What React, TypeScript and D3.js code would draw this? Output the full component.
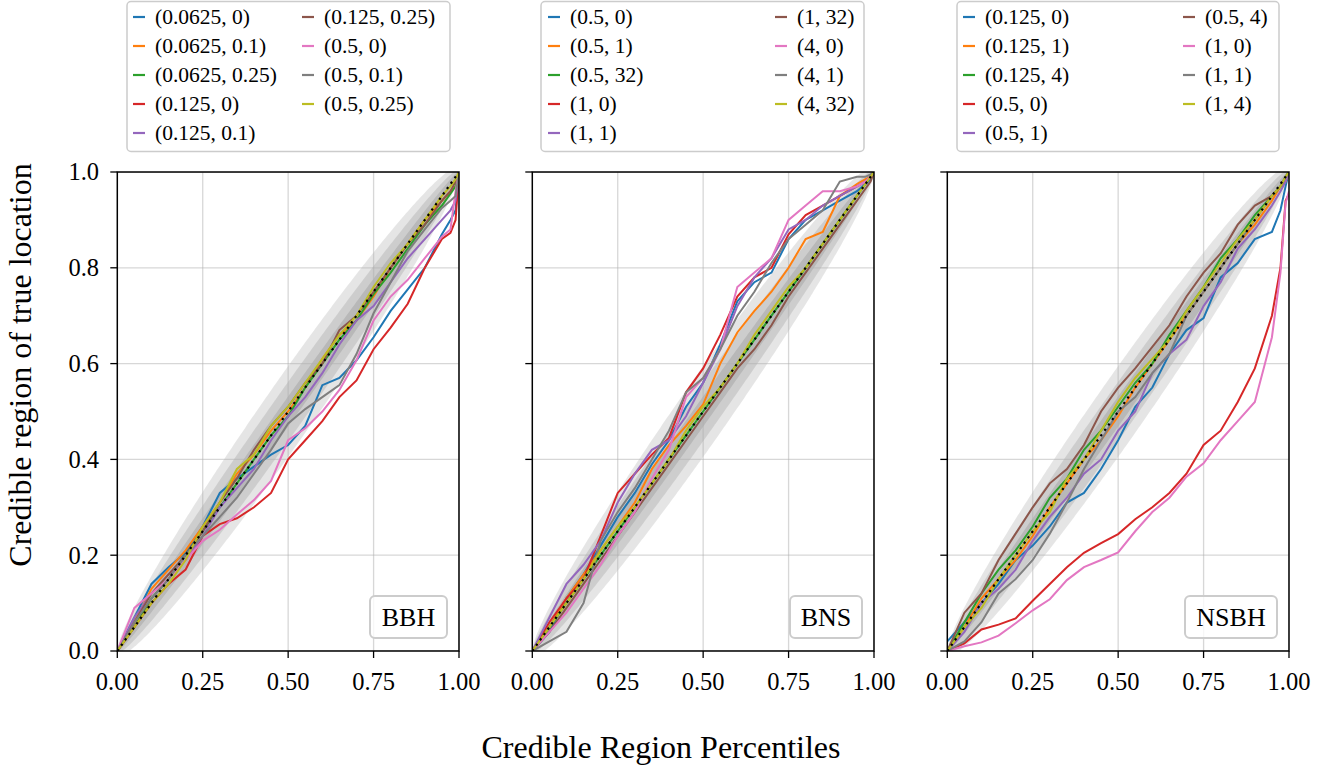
import React from 'react';
import * as d3 from 'd3';

// ---------------- DATA ----------------
const X_GRID = [0, 0.05, 0.1, 0.15, 0.2, 0.25, 0.3, 0.35, 0.4, 0.45, 0.5, 0.55, 0.6, 0.65, 0.7, 0.75, 0.8, 0.85, 0.9, 0.95, 0.975, 0.99, 1];

const COLORS = ['#1f77b4', '#ff7f0e', '#2ca02c', '#d62728', '#9467bd', '#8c564b', '#e377c2', '#7f7f7f', '#bcbd22'];

const X_TICKS = [0, 0.25, 0.5, 0.75, 1.0];
const X_TICK_LABELS = ['0.00', '0.25', '0.50', '0.75', '1.00'];
const Y_TICKS = [0, 0.2, 0.4, 0.6, 0.8, 1.0];
const Y_TICK_LABELS = ['0.0', '0.2', '0.4', '0.6', '0.8', '1.0'];

const PANEL_NAMES = ['BBH', 'BNS', 'NSBH'];

const BBH_LABELS = ['(0.0625, 0)', '(0.0625, 0.1)', '(0.0625, 0.25)', '(0.125, 0)', '(0.125, 0.1)', '(0.125, 0.25)', '(0.5, 0)', '(0.5, 0.1)', '(0.5, 0.25)'];
const BNS_LABELS = ['(0.5, 0)', '(0.5, 1)', '(0.5, 32)', '(1, 0)', '(1, 1)', '(1, 32)', '(4, 0)', '(4, 1)', '(4, 32)'];
const NSBH_LABELS = ['(0.125, 0)', '(0.125, 1)', '(0.125, 4)', '(0.5, 0)', '(0.5, 1)', '(0.5, 4)', '(1, 0)', '(1, 1)', '(1, 4)'];

// BBH
const bbhBlue = [0, 0.07, 0.14, 0.175, 0.205, 0.26, 0.33, 0.36, 0.385, 0.41, 0.43, 0.47, 0.555, 0.57, 0.607, 0.655, 0.71, 0.755, 0.8, 0.87, 0.9, 0.92, 1];
const bbhOrange = [0, 0.06, 0.13, 0.17, 0.21, 0.26, 0.31, 0.37, 0.41, 0.46, 0.5, 0.55, 0.61, 0.66, 0.69, 0.74, 0.8, 0.85, 0.9, 0.94, 0.96, 0.97, 1];
const bbhGreen = [0, 0.05, 0.11, 0.15, 0.2, 0.25, 0.3, 0.35, 0.4, 0.45, 0.49, 0.55, 0.6, 0.65, 0.69, 0.745, 0.79, 0.84, 0.89, 0.93, 0.955, 0.97, 1];
const bbhRed = [0, 0.05, 0.1, 0.14, 0.17, 0.24, 0.265, 0.277, 0.3, 0.33, 0.4, 0.44, 0.48, 0.53, 0.565, 0.63, 0.675, 0.725, 0.8, 0.86, 0.873, 0.9, 1];
const bbhPurple = [0, 0.07, 0.12, 0.16, 0.19, 0.24, 0.3, 0.34, 0.38, 0.44, 0.49, 0.53, 0.58, 0.64, 0.69, 0.72, 0.77, 0.82, 0.86, 0.9, 0.92, 0.94, 1];
const bbhBrown = [0, 0.06, 0.12, 0.16, 0.2, 0.25, 0.31, 0.36, 0.42, 0.47, 0.51, 0.56, 0.6, 0.67, 0.7, 0.75, 0.8, 0.85, 0.89, 0.94, 0.96, 0.98, 1];
const bbhPink = [0, 0.09, 0.12, 0.15, 0.19, 0.23, 0.253, 0.285, 0.315, 0.355, 0.44, 0.465, 0.5, 0.545, 0.607, 0.69, 0.74, 0.775, 0.82, 0.865, 0.88, 0.96, 1];
const bbhGrey = [0, 0.06, 0.11, 0.15, 0.2, 0.24, 0.28, 0.32, 0.37, 0.42, 0.475, 0.505, 0.53, 0.555, 0.62, 0.705, 0.77, 0.835, 0.88, 0.925, 0.94, 0.95, 1];
const bbhOlive = [0, 0.05, 0.1, 0.14, 0.19, 0.26, 0.31, 0.38, 0.41, 0.47, 0.51, 0.56, 0.61, 0.66, 0.7, 0.76, 0.81, 0.85, 0.9, 0.95, 0.97, 0.985, 1];

// BNS
const bnsBlue = [0, 0.04, 0.11, 0.16, 0.22, 0.28, 0.33, 0.39, 0.44, 0.51, 0.56, 0.64, 0.73, 0.77, 0.79, 0.86, 0.9, 0.92, 0.94, 0.96, 0.975, 0.985, 1];
const bnsOrange = [0, 0.05, 0.11, 0.16, 0.21, 0.26, 0.31, 0.38, 0.43, 0.47, 0.515, 0.6, 0.665, 0.71, 0.75, 0.8, 0.86, 0.875, 0.95, 0.975, 0.985, 0.99, 1];
const bnsGreen = [0, 0.05, 0.1, 0.15, 0.2, 0.25, 0.3, 0.35, 0.4, 0.45, 0.5, 0.55, 0.6, 0.65, 0.7, 0.75, 0.8, 0.85, 0.9, 0.95, 0.975, 0.99, 1];
const bnsRed = [0, 0.06, 0.11, 0.15, 0.24, 0.33, 0.37, 0.41, 0.445, 0.54, 0.59, 0.66, 0.74, 0.78, 0.8, 0.87, 0.91, 0.93, 0.95, 0.97, 0.98, 0.99, 1];
const bnsPurple = [0, 0.07, 0.14, 0.18, 0.23, 0.31, 0.37, 0.42, 0.44, 0.49, 0.56, 0.63, 0.72, 0.78, 0.82, 0.88, 0.9, 0.93, 0.95, 0.97, 0.98, 0.99, 1];
const bnsBrown = [0, 0.04, 0.09, 0.14, 0.19, 0.24, 0.29, 0.34, 0.39, 0.44, 0.49, 0.54, 0.59, 0.63, 0.68, 0.74, 0.79, 0.84, 0.89, 0.94, 0.965, 0.98, 1];
const bnsPink = [0, 0.04, 0.08, 0.13, 0.18, 0.24, 0.29, 0.36, 0.42, 0.53, 0.57, 0.63, 0.76, 0.79, 0.82, 0.9, 0.93, 0.96, 0.96, 0.97, 0.98, 0.99, 1];
const bnsGrey = [0, 0.02, 0.04, 0.1, 0.23, 0.29, 0.34, 0.4, 0.46, 0.54, 0.57, 0.63, 0.7, 0.75, 0.81, 0.86, 0.89, 0.92, 0.98, 0.99, 0.99, 0.995, 1];
const bnsOlive = [0, 0.05, 0.1, 0.15, 0.21, 0.26, 0.3, 0.35, 0.4, 0.46, 0.51, 0.55, 0.6, 0.66, 0.71, 0.76, 0.8, 0.85, 0.9, 0.95, 0.975, 0.99, 1];

// NSBH
const nsbhBlue = [0.02, 0.06, 0.1, 0.14, 0.19, 0.22, 0.26, 0.31, 0.33, 0.38, 0.44, 0.51, 0.55, 0.62, 0.67, 0.695, 0.78, 0.81, 0.86, 0.875, 0.92, 0.97, 1];
const nsbhOrange = [0, 0.05, 0.11, 0.15, 0.19, 0.24, 0.3, 0.35, 0.4, 0.44, 0.49, 0.55, 0.6, 0.65, 0.7, 0.75, 0.8, 0.85, 0.89, 0.94, 0.97, 0.98, 1];
const nsbhGreen = [0, 0.06, 0.12, 0.17, 0.21, 0.26, 0.32, 0.36, 0.42, 0.46, 0.51, 0.56, 0.6, 0.66, 0.71, 0.76, 0.82, 0.86, 0.91, 0.95, 0.97, 0.99, 1];
const nsbhRed = [0, 0.016, 0.045, 0.055, 0.068, 0.105, 0.14, 0.175, 0.205, 0.225, 0.244, 0.275, 0.3, 0.33, 0.37, 0.43, 0.46, 0.52, 0.59, 0.7, 0.8, 0.94, 0.955];
const nsbhPurple = [0, 0.04, 0.1, 0.13, 0.17, 0.23, 0.28, 0.32, 0.37, 0.4, 0.46, 0.5, 0.58, 0.62, 0.65, 0.72, 0.77, 0.84, 0.88, 0.93, 0.96, 0.98, 1];
const nsbhBrown = [0, 0.08, 0.12, 0.19, 0.245, 0.3, 0.35, 0.38, 0.43, 0.5, 0.55, 0.59, 0.635, 0.68, 0.74, 0.79, 0.83, 0.89, 0.93, 0.95, 0.97, 0.99, 1];
const nsbhPink = [0, 0.01, 0.018, 0.032, 0.058, 0.085, 0.108, 0.148, 0.175, 0.19, 0.206, 0.25, 0.29, 0.32, 0.364, 0.392, 0.44, 0.48, 0.52, 0.655, 0.79, 0.935, 0.96];
const nsbhGrey = [0, 0.02, 0.06, 0.12, 0.15, 0.19, 0.245, 0.31, 0.38, 0.44, 0.5, 0.53, 0.58, 0.62, 0.7, 0.75, 0.8, 0.85, 0.9, 0.95, 0.97, 0.99, 1];
const nsbhOlive = [0, 0.05, 0.09, 0.15, 0.2, 0.25, 0.29, 0.36, 0.4, 0.46, 0.52, 0.57, 0.61, 0.65, 0.71, 0.76, 0.81, 0.86, 0.9, 0.95, 0.97, 0.99, 1];

const BBH_SERIES = [bbhBlue, bbhOrange, bbhGreen, bbhRed, bbhPurple, bbhBrown, bbhPink, bbhGrey, bbhOlive];
const BNS_SERIES = [bnsBlue, bnsOrange, bnsGreen, bnsRed, bnsPurple, bnsBrown, bnsPink, bnsGrey, bnsOlive];
const NSBH_SERIES = [nsbhBlue, nsbhOrange, nsbhGreen, nsbhRed, nsbhPurple, nsbhBrown, nsbhPink, nsbhGrey, nsbhOlive];

// confidence bands (binomial, N events)
const N_EVENTS = 250;
const BAND_Z = [1.0, 1.96, 3.0];

// ---------------- LAYOUT ----------------
const W = 1335;
const H = 770;
const PANEL_LEFT = [117.3, 532.3, 947.3];
const PANEL_W = 341.7;
const TOP = 172;
const BOTTOM = 651;
const FONT = '"Liberation Serif", "Times New Roman", serif';
const LEGEND_LAYOUT = [
  { box: [127, 450], h1: 133, h2: 302 },
  { box: [541, 864], h1: 548, h2: 775 },
  { box: [957, 1279], h1: 963, h2: 1183 },
];
const ANNOT_W = [77, 72, 92];

const PANELS = [
  { name: PANEL_NAMES[0], labels: BBH_LABELS, series: BBH_SERIES },
  { name: PANEL_NAMES[1], labels: BNS_LABELS, series: BNS_SERIES },
  { name: PANEL_NAMES[2], labels: NSBH_LABELS, series: NSBH_SERIES },
];

function Panel({ idx }: { idx: number }) {
  const p = PANELS[idx];
  const left = PANEL_LEFT[idx];
  const x = d3.scaleLinear().domain([0, 1]).range([left, left + PANEL_W]);
  const y = d3.scaleLinear().domain([0, 1]).range([BOTTOM, TOP]);
  const clipId = `clip${idx}`;

  const ps = d3.range(0, 1.0001, 0.005);
  const bands = BAND_Z.map((z) => {
    const area = d3
      .area<number>()
      .x((v) => x(v))
      .y0((v) => y(Math.max(0, v - z * Math.sqrt((v * (1 - v)) / N_EVENTS))))
      .y1((v) => y(Math.min(1, v + z * Math.sqrt((v * (1 - v)) / N_EVENTS))));
    return area(ps) as string;
  });

  const line = d3
    .line<[number, number]>()
    .x((d) => x(d[0]))
    .y((d) => y(d[1]));

  const lg = LEGEND_LAYOUT[idx];
  const rowY = (r: number) => 17 + r * 29;
  const annW = ANNOT_W[idx];
  const annRight = left + PANEL_W - 12;

  return (
    <g>
      <defs>
        <clipPath id={clipId}>
          <rect x={left} y={TOP} width={PANEL_W} height={BOTTOM - TOP} />
        </clipPath>
      </defs>
      <g clipPath={`url(#${clipId})`}>
        {bands.map((d, i) => (
          <path key={i} d={d} fill="#000" fillOpacity={0.1} stroke="none" />
        ))}
        {X_TICKS.map((t, i) => (
          <line key={'gx' + i} x1={x(t)} x2={x(t)} y1={TOP} y2={BOTTOM} stroke="#b0b0b0" strokeOpacity={0.5} strokeWidth={1.3} />
        ))}
        {Y_TICKS.map((t, i) => (
          <line key={'gy' + i} x1={left} x2={left + PANEL_W} y1={y(t)} y2={y(t)} stroke="#b0b0b0" strokeOpacity={0.5} strokeWidth={1.3} />
        ))}
        {p.series.map((s, i) => (
          <path
            key={'s' + i}
            d={line(X_GRID.map((xv, j) => [xv, s[j]] as [number, number])) as string}
            fill="none"
            stroke={COLORS[i]}
            strokeWidth={2}
            strokeLinejoin="miter"
          />
        ))}
        <line x1={x(0)} y1={y(0)} x2={x(1)} y2={y(1)} stroke="#000" strokeWidth={2.2} strokeDasharray="2.2,4.4" />
      </g>
      {/* spines */}
      <rect x={left} y={TOP} width={PANEL_W} height={BOTTOM - TOP} fill="none" stroke="#000" strokeWidth={1.5} />
      {/* ticks */}
      {X_TICKS.map((t, i) => (
        <g key={'xt' + i}>
          <line x1={x(t)} x2={x(t)} y1={BOTTOM} y2={BOTTOM + 7} stroke="#000" strokeWidth={1.3} />
          <text x={x(t)} y={690} textAnchor="middle" fontFamily={FONT} fontSize={24.5} fill="#000">
            {X_TICK_LABELS[i]}
          </text>
        </g>
      ))}
      {Y_TICKS.map((t, i) => (
        <g key={'yt' + i}>
          <line x1={left - 7} x2={left} y1={y(t)} y2={y(t)} stroke="#000" strokeWidth={1.3} />
          {idx === 0 && (
            <text x={99} y={y(t) + 8.3} textAnchor="end" fontFamily={FONT} fontSize={24.5} fill="#000">
              {Y_TICK_LABELS[i]}
            </text>
          )}
        </g>
      ))}
      {/* annotation box */}
      <rect x={annRight - annW} y={596} width={annW} height={42} rx={5} ry={5} fill="#fff" fillOpacity={0.8} stroke="#cccccc" strokeWidth={2} />
      <text x={annRight - annW / 2} y={626} textAnchor="middle" fontFamily={FONT} fontSize={26} fill="#000">
        {p.name}
      </text>
      {/* legend */}
      <rect x={lg.box[0]} y={1.5} width={lg.box[1] - lg.box[0]} height={150} rx={4} ry={4} fill="#fff" fillOpacity={0.8} stroke="#cccccc" strokeWidth={1.5} />
      {p.labels.map((lab, i) => {
        const col = i < 5 ? 0 : 1;
        const row = i < 5 ? i : i - 5;
        const hx = col === 0 ? lg.h1 : lg.h2;
        const cy = rowY(row);
        return (
          <g key={'lg' + i}>
            <line x1={hx} x2={hx + 12} y1={cy} y2={cy} stroke={COLORS[i]} strokeWidth={2.2} />
            <text x={hx + 22} y={cy + 7} fontFamily={FONT} fontSize={21.5} fill="#000">
              {lab}
            </text>
          </g>
        );
      })}
    </g>
  );
}

export default function App() {
  return (
    <div style={{ position: 'absolute', left: 0, top: 0, width: W, height: H, background: '#fff' }}>
      <svg width={W} height={H} viewBox={`0 0 ${W} ${H}`} style={{ display: 'block' }}>
        <rect x={0} y={0} width={W} height={H} fill="#fff" />
        {PANELS.map((_, i) => (
          <Panel key={i} idx={i} />
        ))}
        <text x={661} y={758} textAnchor="middle" fontFamily={FONT} fontSize={32} fill="#000">
          Credible Region Percentiles
        </text>
        <text transform={`translate(31, 365) rotate(-90)`} textAnchor="middle" fontFamily={FONT} fontSize={32} fill="#000">
          Credible region of true location
        </text>
      </svg>
    </div>
  );
}
